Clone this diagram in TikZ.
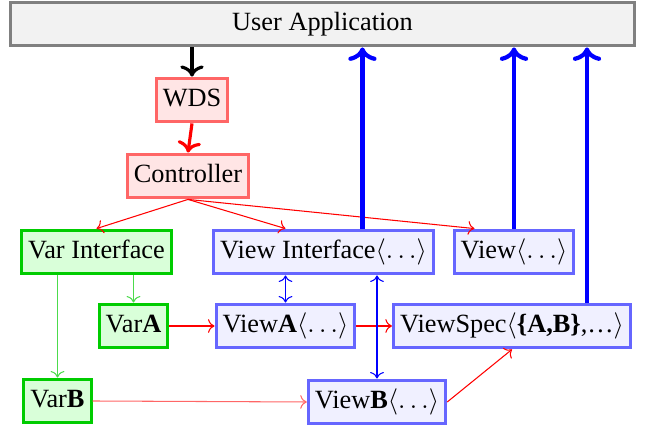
\documentclass[tikz,border=0pt]{standalone}
\usepackage{fontspec}
\setmainfont{Liberation Serif}
\usetikzlibrary{positioning}
\usetikzlibrary{calc}
\usetikzlibrary{arrows.meta}

\begin{document}
\begin{tikzpicture}[
		x=0.38pt, y=-0.38pt,
		box/.style = {
			shape=rectangle,
			draw,
			very thick,
			inner xsep=2.5pt,
			inner ysep=3.3pt,
			text height=7.5pt,
			text depth=2.5pt,
			align=center
		},
		app/.style={box, draw=gray, fill=gray!10, minimum width=237pt, minimum height=16pt},
		ctrl/.style={box, draw=red!60, fill=red!10},
		var/.style={box, draw=green!80!black, fill=green!15},
		view/.style={box, draw=blue!60, fill=blue!6},
		bigdown/.style={->, line width=1.2pt},
		bigup/.style={->, line width=1.6pt, blue},
		thinred/.style={->, red},
		thingreen/.style={->, green!80!black!70},
		thinblue/.style={<->, blue}
		]
		\useasboundingbox (0,0) rectangle (646,430);
		\node[app] (app) at (322.5,24) {User Application};
		\node[ctrl] (wds) at (192,100) {WDS};
		\node[ctrl] (ctrl) at (188,176) {Controller};
		\node[var] (varif) at (96.5,252) {Var Interface};
		\node[view] (viewif) at (323.5,252) {View Interface$\langle\dots\rangle$};
		\node[view] (view) at (514,252) {View$\langle\dots\rangle$};
		\node[var] (vara) at (133.5,326) {Var\textbf{A}};
		\node[view] (viewa) at (285.5,326) {View\textbf{A}$\langle\dots\rangle$};
		\node[view] (viewspec) at (512,326) {ViewSpec$\langle$\textbf{\{A,B\}},\dots$\rangle$};
		\node[var] (varb) at (57.5,401) {Var\textbf{B}};
		\node[view] (viewb) at (377,402) {View\textbf{B}$\langle\dots\rangle$};

		\draw[bigdown] (wds.north |- app.south) -- (wds.north);
		\draw[bigdown, red] (wds.south) -- (ctrl.north);

		\draw[thinred] (ctrl.south) -- (varif.north);
		\draw[thinred] (ctrl.south) -- (viewif.north -| viewa);
		\draw[thinred] (ctrl.south) -- ([xshift=-15pt]view.north);

		\draw[bigup] ([xshift=14.8pt]viewif.north) -- ([xshift=14.8pt]viewif.north |- app.south);
		\draw[bigup] (view.north) -- (view.north |- app.south);
		\draw[bigup] ([xshift=28.5pt]viewspec.north) -- ([xshift=28.5pt]viewspec.north |- app.south);

		\draw[thingreen] (varif.south -| varb) -- (varb.north);
		\draw[thingreen] (varif.south -| vara) -- (vara.north);

		\draw[thinred] (vara.east) -- (viewa.west);
		\draw[thinred] (viewa.east) -- (viewspec.west);
		\draw[thinred, red!60] (varb.east) -- (viewb.west);
		\draw[thinred] (viewb.east) -- (viewspec.south);

		\draw[thinblue] (viewif.south -| viewa) -- (viewa.north);
		\draw[thinblue] (viewif.south -| viewb) -- (viewb.north);
	\end{tikzpicture}
\end{document}
